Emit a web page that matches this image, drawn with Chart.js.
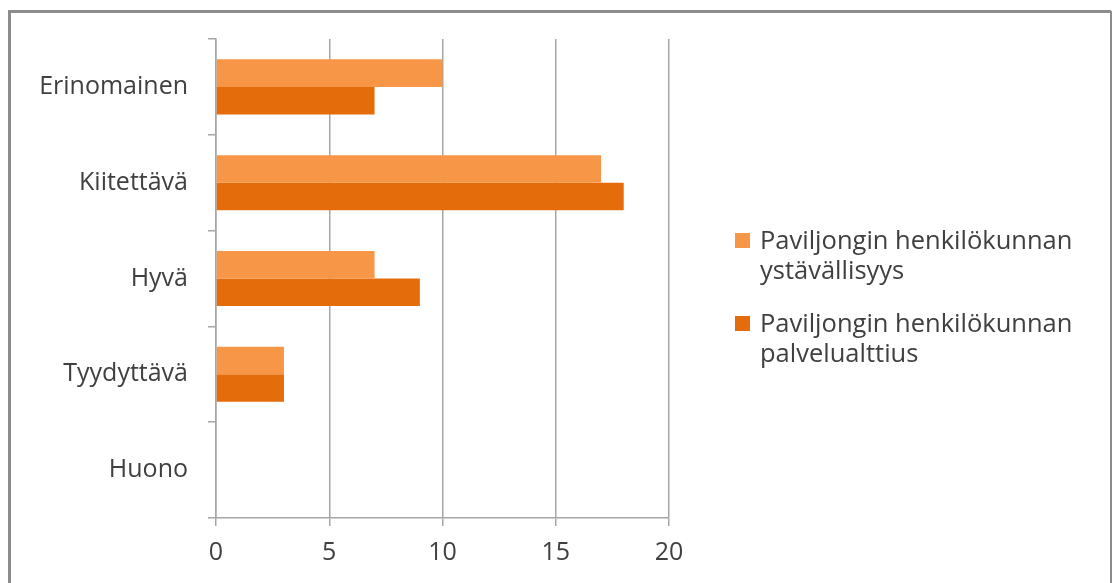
<!DOCTYPE html>
<html>
<head>
<meta charset="utf-8">
<script src="https://cdn.jsdelivr.net/npm/chart.js@4"></script>
<style>
  html, body { margin: 0; padding: 0; background: #fff; }
  #wrap { position: relative; width: 1115px; height: 583px; }
</style>
</head>
<body>
<div id="wrap"><canvas id="chart" width="1115" height="583"></canvas></div>
<script>
const categories = ['Erinomainen', 'Kiitettävä', 'Hyvä', 'Tyydyttävä', 'Huono'];
const seriesNames = [
  ['Paviljongin henkilökunnan', 'ystävällisyys'],
  ['Paviljongin henkilökunnan', 'palvelualttius']
];
const ystavallisyys = [10, 17, 7, 3, 0];
const palvelualttius = [7, 18, 9, 3, 0];
const xTicks = [0, 5, 10, 15, 20];

const colors = ['#F79646', '#E46C0A'];
const textColor = '#404040';
const gridColor = '#a6a6a6';
const fontFamily = '"Open Sans", "DejaVu Sans", sans-serif';

Chart.defaults.font.family = fontFamily;
Chart.defaults.font.size = 25;
Chart.defaults.color = textColor;

// frame round the chart + the legend on the right
const extras = {
  id: 'extras',
  beforeDraw(chart) {
    const ctx = chart.ctx;
    ctx.save();
    ctx.strokeStyle = '#8c8c8c';
    ctx.lineWidth = 3;
    ctx.beginPath();
    ctx.moveTo(9.5, 583);
    ctx.lineTo(9.5, 11.5);
    ctx.lineTo(1111, 11.5);
    ctx.stroke();
    ctx.lineWidth = 2;
    ctx.beginPath();
    ctx.moveTo(1111, 11);
    ctx.lineTo(1111, 583);
    ctx.stroke();
    ctx.restore();
  },
  afterDraw(chart) {
    const ctx = chart.ctx;
    ctx.save();
    ctx.font = '25.5px ' + fontFamily;
    ctx.textBaseline = 'alphabetic';
    chart.data.datasets.forEach((ds, i) => {
      const top = 233 + i * 83;
      ctx.fillStyle = ds.backgroundColor;
      ctx.fillRect(735, top, 15, 15);
      ctx.fillStyle = textColor;
      ds.label.forEach((line, j) => {
        ctx.fillText(line, 760, top + 16 + j * 30);
      });
    });
    ctx.restore();
  }
};

new Chart(document.getElementById('chart'), {
  type: 'bar',
  data: {
    labels: categories,
    datasets: [
      { label: seriesNames[0], data: ystavallisyys, backgroundColor: colors[0] },
      { label: seriesNames[1], data: palvelualttius, backgroundColor: colors[1] }
    ]
  },
  options: {
    indexAxis: 'y',
    responsive: false,
    animation: false,
    categoryPercentage: 0.575,
    barPercentage: 1,
    layout: { padding: { left: 0, right: 446, top: 39, bottom: 0 } },
    plugins: { legend: { display: false }, tooltip: { enabled: false } },
    scales: {
      x: {
        min: 0,
        max: 20,
        afterBuildTicks: s => { s.ticks = xTicks.map(v => ({ value: v })); },
        afterFit: s => { s.height = 65; },
        grid: { color: gridColor, lineWidth: 1.5, tickLength: 8 },
        border: { color: gridColor, width: 1.5 },
        ticks: { padding: 12, color: textColor }
      },
      y: {
        afterFit: s => { s.width = 216; },
        grid: { drawOnChartArea: false, color: gridColor, lineWidth: 1.5, tickLength: 8 },
        border: { color: gridColor, width: 1.5 },
        ticks: { padding: 20, color: textColor }
      }
    }
  },
  plugins: [extras]
});
</script>
</body>
</html>
